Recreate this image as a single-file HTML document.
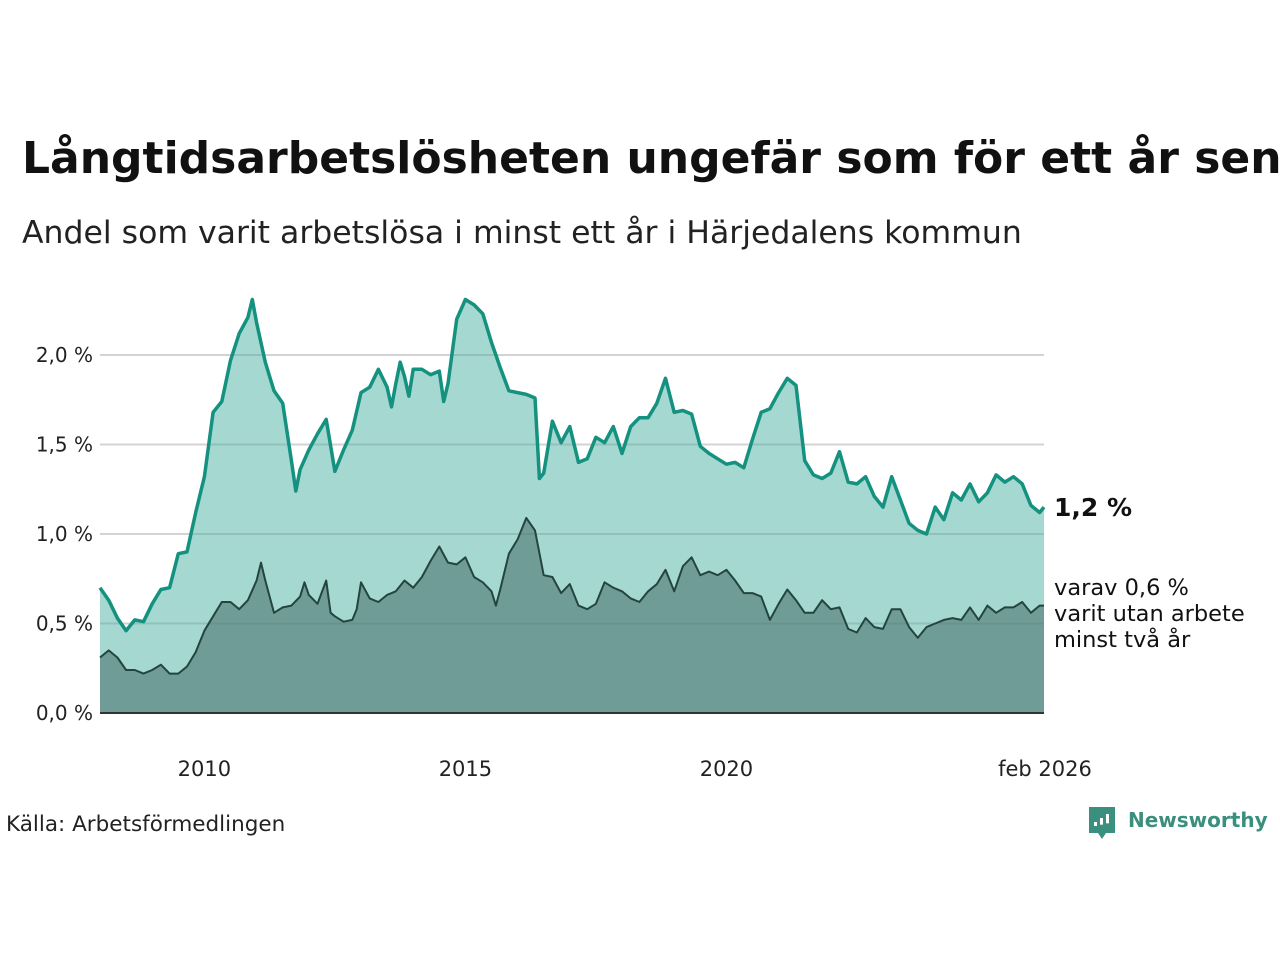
<!DOCTYPE html>
<html><head><meta charset="utf-8"><style>
html,body{margin:0;padding:0;background:#fff;width:1280px;height:960px;overflow:hidden;font-family:"DejaVu Sans","Liberation Sans",sans-serif;}
#title{position:absolute;left:22px;top:133px;font-size:44px;font-weight:bold;white-space:nowrap;color:#111;}
#sub{position:absolute;left:22px;top:215px;font-size:31.5px;color:#222;white-space:nowrap}
svg{position:absolute;left:0;top:0;font-family:"DejaVu Sans","Liberation Sans",sans-serif}
</style></head><body>
<div id="title">Långtidsarbetslösheten ungefär som för ett år sen</div>
<div id="sub">Andel som varit arbetslösa i minst ett år i Härjedalens kommun</div>
<svg id="chart" width="1280" height="960"></svg>
<script>
const topMonths=[0,2,4,6,8,10,12,14,16,18,20,22,24,26,28,30,32,34,35,36,38,40,42,44,45,46,48,50,52,54,56,58,60,62,64,66,67,68,69,70,71,72,74,76,78,79,80,82,84,86,88,90,92,94,96,98,100,101,102,104,106,108,110,112,114,116,118,120,122,124,126,128,130,132,134,136,138,140,142,144,146,148,150,152,154,156,158,160,162,164,166,168,170,172,174,176,178,180,182,184,186,188,190,192,194,196,198,200,202,204,206,208,210,212,214,216,217];
const topValues=[0.70,0.63,0.53,0.46,0.52,0.51,0.61,0.69,0.70,0.89,0.90,1.12,1.32,1.68,1.74,1.97,2.12,2.21,2.31,2.18,1.96,1.80,1.73,1.41,1.24,1.36,1.47,1.56,1.64,1.35,1.47,1.58,1.79,1.82,1.92,1.82,1.71,1.84,1.96,1.88,1.77,1.92,1.92,1.89,1.91,1.74,1.84,2.20,2.31,2.28,2.23,2.07,1.93,1.80,1.79,1.78,1.76,1.31,1.34,1.63,1.51,1.60,1.40,1.42,1.54,1.51,1.60,1.45,1.60,1.65,1.65,1.73,1.87,1.68,1.69,1.67,1.49,1.45,1.42,1.39,1.40,1.37,1.53,1.68,1.70,1.79,1.87,1.83,1.41,1.33,1.31,1.34,1.46,1.29,1.28,1.32,1.21,1.15,1.32,1.19,1.06,1.02,1.00,1.15,1.08,1.23,1.19,1.28,1.18,1.23,1.33,1.29,1.32,1.28,1.16,1.12,1.15];
const botMonths=[0,2,4,6,8,10,12,14,16,18,20,22,24,26,28,30,32,34,36,37,38,40,42,44,46,47,48,50,52,53,54,56,58,59,60,62,64,66,68,70,72,74,76,78,80,82,84,86,88,90,91,92,94,96,98,100,102,104,106,108,110,112,114,116,118,120,122,124,126,128,130,132,134,136,138,140,142,144,146,148,150,152,154,156,158,160,162,164,166,168,170,172,174,176,178,180,182,184,186,188,190,192,194,196,198,200,202,204,206,208,210,212,214,216,217];
const botValues=[0.31,0.35,0.31,0.24,0.24,0.22,0.24,0.27,0.22,0.22,0.26,0.34,0.46,0.54,0.62,0.62,0.58,0.63,0.74,0.84,0.74,0.56,0.59,0.60,0.65,0.73,0.66,0.61,0.74,0.56,0.54,0.51,0.52,0.58,0.73,0.64,0.62,0.66,0.68,0.74,0.70,0.76,0.85,0.93,0.84,0.83,0.87,0.76,0.73,0.68,0.60,0.69,0.89,0.97,1.09,1.02,0.77,0.76,0.67,0.72,0.60,0.58,0.61,0.73,0.70,0.68,0.64,0.62,0.68,0.72,0.80,0.68,0.82,0.87,0.77,0.79,0.77,0.80,0.74,0.67,0.67,0.65,0.52,0.61,0.69,0.63,0.56,0.56,0.63,0.58,0.59,0.47,0.45,0.53,0.48,0.47,0.58,0.58,0.48,0.42,0.48,0.50,0.52,0.53,0.52,0.59,0.52,0.60,0.56,0.59,0.59,0.62,0.56,0.60,0.60];
const yTicks=[0,0.5,1.0,1.5,2.0];
const yTickLabels=["0,0 %","0,5 %","1,0 %","1,5 %","2,0 %"];
const xTickMonths=[24,84,144,217];
const xTickLabels=["2010","2015","2020","feb 2026"];

const NS="http://www.w3.org/2000/svg";
const svg=document.getElementById('chart');
const X0=100,X1=1044,Y0=713,PXV=179,MMAX=217;
const xs=m=>X0+(X1-X0)*m/MMAX;
const ys=v=>Y0-v*PXV;
function mk(tag,attrs){const e=document.createElementNS(NS,tag);for(const k in attrs)e.setAttribute(k,attrs[k]);svg.appendChild(e);return e;}
function txt(x,y,s,attrs){const e=mk('text',Object.assign({x:x,y:y},attrs));e.textContent=s;return e;}

yTicks.forEach((t,i)=>{
  if(t>0){const g=mk('line',{x1:X0,x2:X1,y1:ys(t),y2:ys(t),stroke:'#e1e1e4','stroke-width':2});
  
  }
  const l=txt(93,ys(t)+7,yTickLabels[i],{'text-anchor':'end','font-size':20,fill:'#222'});
  
  
});
function pts(ms,vs){return ms.map((m,i)=>xs(m).toFixed(1)+','+ys(vs[i]).toFixed(1)).join(' ');}
const ta=mk('polygon',{points:xs(topMonths[0])+','+Y0+' '+pts(topMonths,topValues)+' '+xs(topMonths[topMonths.length-1])+','+Y0,fill:'#7cc5bd','fill-opacity':0.68});


const ba=mk('polygon',{points:xs(botMonths[0])+','+Y0+' '+pts(botMonths,botValues)+' '+xs(botMonths[botMonths.length-1])+','+Y0,fill:'#6f9c96'});


yTicks.forEach(t=>{if(t>0){const g=mk('line',{x1:X0,x2:X1,y1:ys(t),y2:ys(t),stroke:'#000','stroke-opacity':0.06,'stroke-width':2});

}});
const bl=mk('polyline',{points:pts(botMonths,botValues),fill:'none',stroke:'#24443f','stroke-width':2,'stroke-linejoin':'round'});


const tl=mk('polyline',{points:pts(topMonths,topValues),fill:'none',stroke:'#14917f','stroke-width':3.5,'stroke-linejoin':'round'});


const base=mk('line',{x1:X0,x2:X1,y1:Y0,y2:Y0,stroke:'#333','stroke-width':2});


xTickMonths.forEach((m,i)=>{
  const l=txt(xs(m)+(i==3?1:0),776,xTickLabels[i],{'text-anchor':'middle','font-size':21,fill:'#222'});
  
  
});
const lv=txt(1054,516,'1,2 %',{'font-size':25,'font-weight':'bold',fill:'#111'});


['varav 0,6 %','varit utan arbete','minst två år'].forEach((s,i)=>{
  const l=txt(1054,595+i*26,s,{'font-size':22.5,fill:'#111'});
  
  
});
const src=txt(6,831,'Källa: Arbetsförmedlingen',{'font-size':21.5,fill:'#222'});


const lg=mk('path',{d:'M1089 807 h26 v26 h-9 l-4 6 l-4 -6 h-9 z',fill:'#3a8f7f'});


[[1094,822,6],[1100,818,10],[1106,814,14]].forEach(b=>{const r=mk('rect',{x:b[0],y:b[1],width:3,height:b[2]/1.5,fill:'#fff'});

});
const lt=txt(1128,827,'Newsworthy',{'font-size':20,'font-weight':'bold',fill:'#3a8f7f'});


</script>
</body></html>
